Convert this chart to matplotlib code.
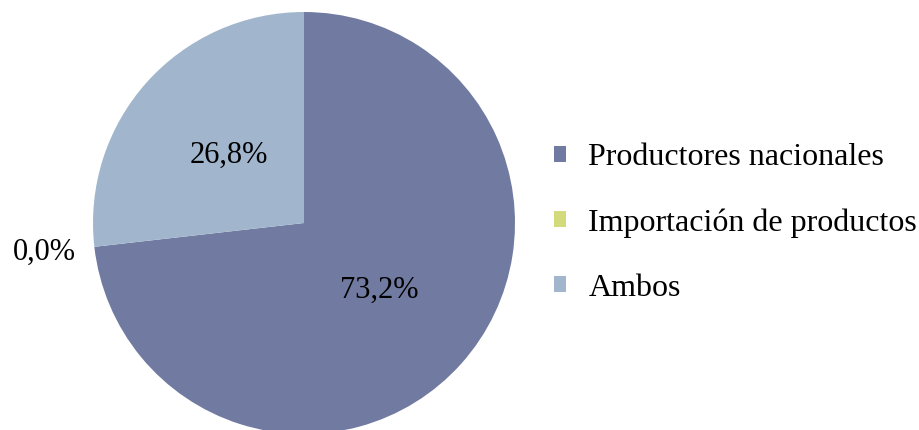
import numpy as np
import matplotlib.pyplot as plt

labels = ["Productores nacionales", "Importación de productos", "Ambos"]
values = [73.2, 0.0, 26.8]
colors = ["#717BA1", "#D3DA7B", "#A1B6CD"]

plt.rcParams["font.family"] = ["Liberation Serif", "DejaVu Serif"]

fig = plt.figure(figsize=(9.19, 4.30), dpi=100)
# pie centre ~ (304, 223) px, radius ~211 px
ax = fig.add_axes([93 / 919, -4 / 430, 422 / 919, 422 / 430])

wedges, texts, autotexts = ax.pie(
    values, colors=colors, startangle=90, counterclock=False,
    autopct=lambda p: ("%.1f%%" % p).replace(".", ","),
    pctdistance=0.48, radius=1.0,
    textprops={"fontsize": 22, "color": "black"},
    wedgeprops={"linewidth": 0},
)

# the empty slice gets its label outside the pie
for w, t, v in zip(wedges, autotexts, values):
    if v == 0:
        ang = np.deg2rad((w.theta1 + w.theta2) / 2)
        t.set_position((1.24 * np.cos(ang), 1.24 * np.sin(ang)))

ax.set_xlim(-1, 1)
ax.set_ylim(-1, 1)
ax.set_aspect("equal")
ax.axis("off")

fig.legend(wedges, labels, loc="center left",
           bbox_to_anchor=(554 / 919, (430 - 223) / 430),
           frameon=False, fontsize=23,
           handlelength=0.38, handleheight=0.38, handletextpad=0.7,
           labelspacing=1.12, borderpad=0, borderaxespad=0)

fig.savefig("out.png", dpi=100)
